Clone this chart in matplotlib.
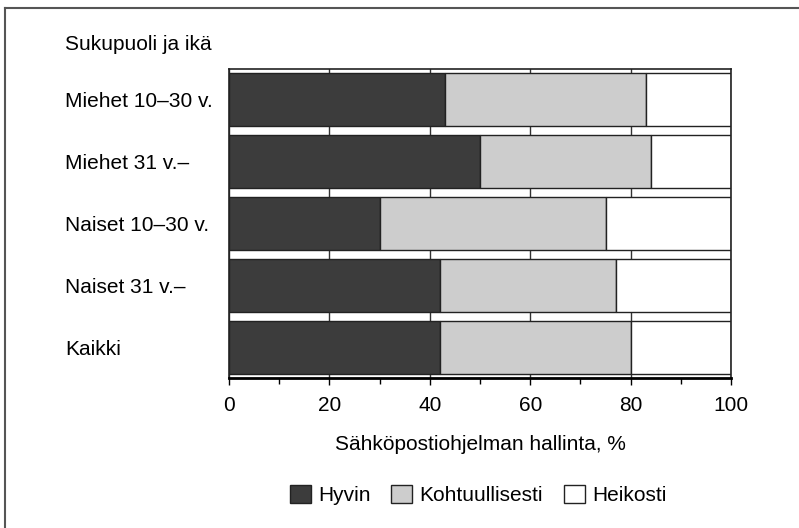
import matplotlib
matplotlib.use('Agg')
import matplotlib.pyplot as plt
from matplotlib.lines import Line2D
from matplotlib.ticker import MultipleLocator

plt.rcParams['font.family'] = ['Liberation Sans', 'DejaVu Sans']

groups = ['Miehet 10\u201330 v.', 'Miehet 31 v.\u2013', 'Naiset 10\u201330 v.',
          'Naiset 31 v.\u2013', 'Kaikki']
hyvin = [43, 50, 30, 42, 42]
kohtuullisesti = [40, 34, 45, 35, 38]
heikosti = [17, 16, 25, 23, 20]
series_names = ['Hyvin', 'Kohtuullisesti', 'Heikosti']

colors = ['#3c3c3c', '#cdcdcd', 'white']

fig = plt.figure(figsize=(7.99, 5.28), dpi=100)
ax = fig.add_axes([229 / 799, 1 - 378 / 528, 502 / 799, 309 / 528])

ypos = list(range(len(groups)))
left = [0] * len(groups)
for vals, name, col in zip([hyvin, kohtuullisesti, heikosti], series_names, colors):
    ax.barh(ypos, vals, left=left, height=0.855, color=col, edgecolor='#222222',
            linewidth=1.0, label=name, zorder=2)
    left = [a + b for a, b in zip(left, vals)]

ax.set_xlim(0, 100)
ax.set_ylim(len(groups) - 0.5, -0.5)
ax.xaxis.set_major_locator(MultipleLocator(20))
ax.xaxis.set_minor_locator(MultipleLocator(10))
ax.grid(axis='x', which='major', color='#333333', linewidth=1.0, zorder=0)
ax.set_axisbelow(True)

ax.set_yticks(ypos)
ax.set_yticklabels(groups, fontsize=15, ha='left')
ax.tick_params(axis='y', length=0, pad=164 * 72 / 100)
ax.tick_params(axis='x', which='major', length=5, width=1, labelsize=15, pad=8)
ax.tick_params(axis='x', which='minor', length=4, width=1)

for s in ['top', 'right', 'left']:
    ax.spines[s].set_linewidth(1.2)
    ax.spines[s].set_color('#222222')
ax.spines['bottom'].set_linewidth(2.0)

ax.set_xlabel('S\u00e4hk\u00f6postiohjelman hallinta, %', fontsize=15, labelpad=14)

fig.text(65 / 799, 1 - 45 / 528, 'Sukupuoli ja ik\u00e4', fontsize=15, va='center', ha='left')

handles, labels = ax.get_legend_handles_labels()
fig.legend(handles, labels, loc='center', bbox_to_anchor=(478 / 799, 1 - 495 / 528),
           ncol=3, frameon=False, fontsize=15, handlelength=1.0, handleheight=1.0,
           handletextpad=0.35, columnspacing=1.0)

# outer frame (left and top edges)
fig.add_artist(Line2D([5 / 799, 5 / 799], [0, 1 - 8 / 528], transform=fig.transFigure,
                      color='#555555', linewidth=1.5))
fig.add_artist(Line2D([5 / 799, 1], [1 - 8 / 528, 1 - 8 / 528], transform=fig.transFigure,
                      color='#555555', linewidth=1.5))

fig.savefig('out.png', dpi=100)
